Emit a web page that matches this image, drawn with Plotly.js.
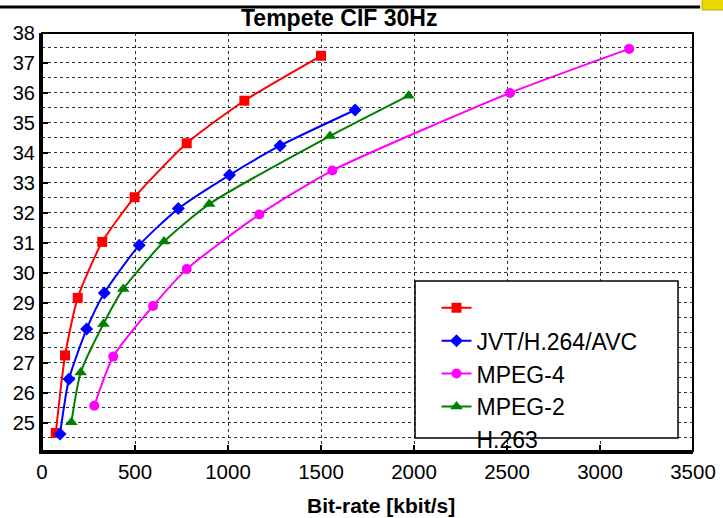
<!DOCTYPE html>
<html>
<head>
<meta charset="utf-8">
<script src="https://cdn.plot.ly/plotly-3.0.1.min.js"></script>
<style>html,body{margin:0;padding:0;background:#fff;}#chart{width:723px;height:518px;}</style>
</head>
<body>
<div id="chart"></div>
<script>
// Data
const redX = [74, 124, 192, 324, 498, 778, 1088, 1500];
const redY = [24.65, 27.24, 29.16, 31.03, 32.52, 34.32, 35.74, 37.24];
const blueX = [97, 145, 240, 335, 523, 733, 1008, 1280, 1683];
const blueY = [24.62, 26.45, 28.12, 29.32, 30.92, 32.14, 33.26, 34.24, 35.43];
const magX = [281, 383, 597, 778, 1168, 1561, 2516, 3157];
const magY = [25.56, 27.20, 28.89, 30.12, 31.94, 33.41, 36.0, 37.47];
const greenX = [158, 208, 330, 437, 656, 899, 1548, 1971];
const greenY = [25.01, 26.67, 28.29, 29.46, 31.04, 32.29, 34.56, 35.91];
const names = ["", "JVT/H.264/AVC", "MPEG-4", "MPEG-2", "H.263"];
const chartTitle = "Tempete CIF 30Hz";
const xTitle = "Bit-rate [kbit/s]";

const FONT = "Liberation Sans, Arial, sans-serif";
const gridCol = "rgba(0,0,0,0.8)";

function series(x, y, name, color, symbol, size) {
  return {
    x: x, y: y, name: name, type: "scatter", mode: "lines+markers",
    line: {color: color, width: 2, shape: "spline", smoothing: 0.6},
    marker: {color: color, symbol: symbol, size: size}
  };
}

const traces = [
  series(redX, redY, names[0], "#ff0000", "square", 10),
  series(blueX, blueY, names[1], "#0000ff", "diamond", 10),
  series(magX, magY, names[2], "#ff00ff", "circle", 10),
  series(greenX, greenY, names[3], "#008000", "triangle-up", 11),
  {x: [null], y: [null], name: names[4], type: "scatter", mode: "lines",
   line: {color: "rgba(0,0,0,0)", width: 0}, showlegend: true}
];

const layout = {
  width: 723, height: 518,
  margin: {l: 42, r: 30, t: 33, b: 67},
  paper_bgcolor: "#fff", plot_bgcolor: "#fff",
  font: {family: FONT, color: "#000"},
  showlegend: true,
  legend: {
    x: 0.606, y: 0.394, xanchor: "left", yanchor: "top",
    bgcolor: "rgba(0,0,0,0)", borderwidth: 0,
    font: {family: FONT, size: 23, color: "#000"},
    traceorder: "normal", itemwidth: 30
  },
  xaxis: {
    range: [0, 3500], dtick: 500, tick0: 0,
    showgrid: true, gridcolor: gridCol, griddash: "dot", gridwidth: 1,
    zeroline: false, showline: true, linecolor: "#000", linewidth: 3,
    ticks: "inside", ticklen: 6, tickwidth: 2, tickcolor: "#000",
    tickfont: {family: FONT, size: 20.5, color: "#000"},
    fixedrange: true
  },
  yaxis: {
    range: [24.05, 38], dtick: 1, tick0: 24,
    showgrid: true, gridcolor: gridCol, griddash: "dot", gridwidth: 1,
    minor: {dtick: 0.5, tick0: 24, showgrid: true, gridcolor: gridCol, griddash: "dot", gridwidth: 1},
    zeroline: false, showline: true, linecolor: "#000", linewidth: 3,
    ticks: "inside", ticklen: 6, tickwidth: 2, tickcolor: "#000",
    tickfont: {family: FONT, size: 20, color: "#000"},
    fixedrange: true
  },
  shapes: [
    {type: "rect", xref: "paper", yref: "paper", x0: 0, x1: 1, y0: 0, y1: 1,
     line: {color: "#000", width: 2}, fillcolor: "rgba(0,0,0,0)", layer: "above"},
    {type: "rect", xref: "paper", yref: "paper", x0: 0.573, x1: 0.977, y0: 0.031, y1: 0.4067,
     line: {color: "#000", width: 1.5}, fillcolor: "#fff", layer: "above"},
    {type: "line", xref: "paper", yref: "paper", x0: -0.07, x1: 1.011, y0: 1.0622, y1: 1.0622,
     line: {color: "#000", width: 3}},
    {type: "rect", xref: "paper", yref: "paper", x0: 1.014, x1: 1.05, y0: 1.055, y1: 1.09,
     line: {color: "#b8a800", width: 1}, fillcolor: "#e8d800"}
  ],
  annotations: [
    {text: "<b>" + chartTitle + "</b>", xref: "paper", yref: "paper",
     x: (338.5 - 42) / 651, y: 1.0, xanchor: "center", yanchor: "bottom",
     showarrow: false, font: {family: FONT, size: 23, color: "#000"}},
    {text: "<b>" + xTitle + "</b>", xref: "paper", yref: "paper",
     x: (381 - 42) / 651, y: (451 - 505) / 418, xanchor: "center", yanchor: "middle",
     showarrow: false, font: {family: FONT, size: 21, color: "#000"}}
  ]
};

Plotly.newPlot("chart", traces, layout, {displayModeBar: false, staticPlot: true});
</script>
</body>
</html>
